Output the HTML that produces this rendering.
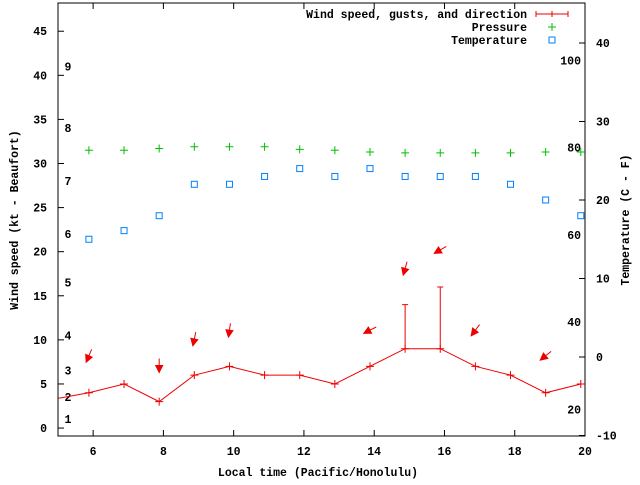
<!DOCTYPE html>
<html><head><meta charset="utf-8"><style>
body{margin:0;background:#fff;}
svg text{font-family:"Liberation Mono",monospace;font-size:11.5px;font-weight:bold;fill:#000;}
</style></head><body>
<svg id="c" width="640" height="480" xmlns="http://www.w3.org/2000/svg"></svg>
<script>
const times=[5.88,6.88,7.88,8.88,9.88,10.88,11.88,12.88,13.88,14.88,15.88,16.88,17.88,18.88,19.88];
const wind=[4,5,3,6,7,6,6,5,7,9,9,7,6,4,5];
const prevTime=4.9, prevWind=3.3;
const gustTimes=[14.88,15.88];
const gusts=[14,16];
const pressure=[31.5,31.5,31.7,31.9,31.9,31.9,31.6,31.5,31.3,31.2,31.2,31.2,31.2,31.3,31.3];
const temperature=[15.0,16.1,18.0,22.0,22.0,23.0,24.0,23.0,24.0,23.0,23.0,23.0,22.0,20.0,18.0];
const arrowTimes=[5.88,7.88,8.88,9.88,13.88,14.88,15.88,16.88,18.88];
const arrowLevels=[8.2,7.1,10.1,11.1,11.1,18.1,20.2,11.1,8.2];
const arrowAngles=[-23,0,-12,-8,-63,-16,-60,-37,-51];
const xTicks=[6,8,10,12,14,16,18,20];
const yTicks=[0,5,10,15,20,25,30,35,40,45];
const tTicks=[-10,0,10,20,30,40];
const fTicks=[20,40,60,80,100];
const bftTicks=[[1,1],[2,3.5],[3,6.5],[4,10.5],[5,16.5],[6,22],[7,28],[8,34],[9,41]];

const L=58,R=585,T=3,B=436;
const X=t=>L+(t-5)*(R-L)/15;
const Y=v=>B-(v+0.9)*(B-T)/49.1;
const TY=c=>357-c*7.85;
const FY=f=>TY((f-32)*5/9);
const svg=document.getElementById('c');
const NS='http://www.w3.org/2000/svg';
function mk(tag,attrs,parent){const e=document.createElementNS(NS,tag);for(const k in attrs)e.setAttribute(k,attrs[k]);(parent||svg).appendChild(e);return e;}
function txt(s,x,y,anchor,name){const e=mk('text',{x:x,y:y,'text-anchor':anchor||'middle'});e.textContent=s;


return e;}

const frame=mk('rect',{x:L,y:T,width:R-L,height:B-T,fill:'none',stroke:'#000','stroke-width':1});



xTicks.forEach(t=>{const x=X(t);mk('line',{x1:x,y1:B,x2:x,y2:B-6,stroke:'#000'});mk('line',{x1:x,y1:T,x2:x,y2:T+6,stroke:'#000'});txt(String(t),x,455,'middle','x-tick-label');});
yTicks.forEach(v=>{const y=Y(v);mk('line',{x1:L,y1:y,x2:L+6,y2:y,stroke:'#000'});txt(String(v),47,y+4,'end','y-tick-label');});
tTicks.forEach(c=>{const y=TY(c);mk('line',{x1:R,y1:y,x2:R-6,y2:y,stroke:'#000'});txt(String(c),596,y+4,'start','temp-c-tick-label');});
fTicks.forEach(f=>{txt(String(f),581,FY(f)+4,'end','temp-f-label');});
bftTicks.forEach(b=>{txt(String(b[0]),68,Y(b[1])+4,'middle','beaufort-label');});

const yt=txt('Wind speed (kt - Beaufort)',0,0,'middle','y-axis-title');yt.setAttribute('transform','translate(18,220) rotate(-90)');
const tt=txt('Temperature (C - F)',0,0,'middle','y2-axis-title');tt.setAttribute('transform','translate(629,220) rotate(-90)');
txt('Local time (Pacific/Honolulu)',318,476,'middle','x-axis-title');

// wind line
let pts=[[X(prevTime),Y(prevWind)]].concat(times.map((t,i)=>[X(t),Y(wind[i])]));
const cp=mk('clipPath',{id:'clip'});mk('rect',{x:L,y:T,width:R-L,height:B-T},cp);
const g=mk('g',{'clip-path':'url(#clip)'});
const wl=mk('polyline',{points:pts.map(p=>p.join(',')).join(' '),fill:'none',stroke:'#e00',"stroke-width":1},g);


times.forEach((t,i)=>{const x=X(t),y=Y(wind[i]);const p=mk('path',{d:`M${x-4},${y}h8M${x},${y-4}v8`,stroke:'#e00'},g);

});
gustTimes.forEach((t,i)=>{const x=X(t),wi=times.findIndex(tt=>Math.abs(tt-t)<0.01);const y0=Y(wind[wi]),y1=Y(gusts[i]);
const p=mk('path',{d:`M${x},${y0}V${y1}M${x-3},${y1}h6`,stroke:'#e00',fill:'none'},g);

});
arrowTimes.forEach((t,i)=>{const cx=X(t),cy=Y(arrowLevels[i]);const a=arrowAngles[i]*Math.PI/180;const dx=Math.sin(a)*7,dy=Math.cos(a)*7;
const hx=cx+dx,hy=cy+dy;const bx=-Math.sin(a),by=-Math.cos(a);const px=-by,py=bx;
const h=mk('path',{d:`M${cx-dx},${cy-dy}L${hx},${hy}M${hx},${hy}L${hx+bx*7+px*3.5},${hy+by*7+py*3.5}L${hx+bx*7-px*3.5},${hy+by*7-py*3.5}Z`,stroke:'#e00',fill:'#e00','stroke-width':1},g);

});
times.forEach((t,i)=>{const x=X(t),y=Y(pressure[i]);const p=mk('path',{d:`M${x-4},${y}h8M${x},${y-4}v8`,stroke:'#00c000'},g);

});
times.forEach((t,i)=>{const x=X(t),y=TY(temperature[i]);const r=mk('rect',{x:x-3,y:y-3,width:6,height:6,fill:'none',stroke:'#0080ff'},g);

});

// legend
txt('Wind speed, gusts, and direction',527,18,'end','legend-wind-label');
const lw=mk('path',{d:'M536,14h32M536,11v6M568,11v6M552,11v6',stroke:'#e00',fill:'none'});


txt('Pressure',527,31,'end','legend-pressure-label');
const lp=mk('path',{d:'M548,27h8M552,23v8',stroke:'#00c000'});


txt('Temperature',527,44,'end','legend-temperature-label');
const lt=mk('rect',{x:549,y:37,width:6,height:6,fill:'none',stroke:'#0080ff'});


</script>
</body></html>
